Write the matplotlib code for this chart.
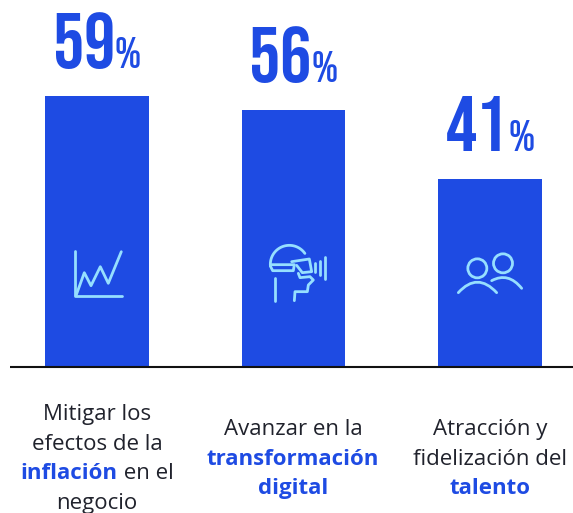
import numpy as np
import matplotlib
matplotlib.use('Agg')
import matplotlib.pyplot as plt
from matplotlib.path import Path
from matplotlib.patches import PathPatch, Circle

valores = [59, 56, 41]
etiquetas = [
    [[('Mitigar los', False)], [('efectos de la', False)], [('inflación', True), (' en el', False)], [('negocio', False)]],
    [[('Avanzar en la', False)], [('transformación', True)], [('digital', True)]],
    [[('Atracción y', False)], [('fidelización del', False)], [('talento', True)]],
]

azul = '#1e4be3'
celeste = '#96dfff'
oscuro = '#20222c'
fonte = ['Open Sans', 'Liberation Sans']
fonte_num = ['Bebas Neue', 'Oswald', 'Liberation Sans']

fig = plt.figure(figsize=(5.73, 5.13), dpi=100)

# eixo dos dados, ocupa a figura toda
ax = fig.add_axes([0, 0, 1, 1])
ax.set_xlim(-0.4925, 2.4215)
ax.set_ylim(-31.8, 79.96)
ax.axis('off')
x = np.arange(len(valores))
ax.bar(x, valores, width=0.528, color=azul)

# eixo em pixels para linha de base, icones e textos
px = fig.add_axes([0, 0, 1, 1])
px.set_xlim(0, 573)
px.set_ylim(513, 0)
px.axis('off')
px.patch.set_alpha(0)
px.plot([10, 573], [367, 367], color='#111111', lw=1.5, solid_capstyle='butt')

renderer = fig.canvas.get_renderer()


def linha(pedacos, cx, cy):
    # junta pedacos normal/negrito centrados em cx
    textos = []
    total = 0
    for s, negrito in pedacos:
        t = px.text(0, cy, s.replace(' ', '\u00a0'), fontsize=16, family=fonte,
                    fontweight='bold' if negrito else 'normal',
                    color=azul if negrito else oscuro, va='center_baseline', ha='left')
        w = t.get_window_extent(renderer).width
        textos.append((t, w))
        total += w
    pos = cx - total / 2
    for t, w in textos:
        t.set_x(pos)
        pos += w


centros = [97, 293, 490]
inicio = [412, 427, 427]
for i, linhas in enumerate(etiquetas):
    for j, pedacos in enumerate(linhas):
        linha(pedacos, centros[i], inicio[i] + j * 29.7)

# numeros grandes sobre as barras, grupo numero+% centrado
for i, v in enumerate(valores):
    t1 = ax.annotate(str(v), (x[i], v), xytext=(0, 20), textcoords='offset points',
                     fontsize=56, family=fonte_num, color=azul,
                     ha='left', va='baseline')
    t2 = ax.annotate('%', (x[i], v), xytext=(0, 20), textcoords='offset points',
                     fontsize=32, family=fonte_num, color=azul,
                     ha='left', va='baseline')
    w1 = t1.get_window_extent(renderer).width * 0.72
    w2 = t2.get_window_extent(renderer).width * 0.72
    inicio_x = -(w1 + w2) / 2
    t1.set_position((inicio_x, 20))
    t2.set_position((inicio_x + w1, 20))


def traco(pontos, lw=2):
    xs, ys = zip(*pontos)
    px.plot(xs, ys, color=celeste, lw=lw, solid_capstyle='round', solid_joinstyle='round')


def curva(p0, p1, p2, lw=2):
    p = Path([p0, p1, p2], [Path.MOVETO, Path.CURVE3, Path.CURVE3])
    px.add_patch(PathPatch(p, fc='none', ec=celeste, lw=lw, capstyle='round'))


# icone grafico
traco([(75, 251), (75, 295.7), (121.7, 295.7)])
traco([(76, 295.7), (84.3, 272.7), (91, 285.7), (100.3, 266.7), (108.3, 283.3), (121.3, 251.7)])

# icone oculos VR
def vr(a, b):
    return (250 + a / 3, 230 + b / 3)


t = np.radians(np.linspace(175, 325, 30))
traco([vr(118 + 57 * np.cos(a), 103 + 57 * np.sin(a)) for a in t])
traco([vr(61, 108), vr(68, 122), vr(130, 122), vr(133, 104), vr(64, 104)])
traco([vr(125, 95), vr(178, 87), vr(185, 125), vr(157, 128), vr(140, 106)])
traco([vr(74, 145), vr(74, 212)])
traco([vr(145, 130), vr(150, 143), vr(180, 140), vr(190, 150), vr(175, 165), vr(172, 185), vr(135, 185), vr(133, 212)])
traco([vr(196, 100), vr(196, 125)])
traco([vr(210, 92), vr(210, 135)])
traco([vr(224, 82), vr(224, 147)])

# icone pessoas
def gente(a, b):
    return (445 + a / 3, 240 + b / 3)


px.add_patch(Circle(gente(97, 85), 9.5, fc='none', ec=celeste, lw=2))
px.add_patch(Circle(gente(174, 70), 9.5, fc='none', ec=celeste, lw=2))
curva(gente(40, 158), gente(97, 95), gente(155, 158))
curva(gente(140, 122), gente(190, 95), gente(230, 145))

fig.savefig('out.png', dpi=100)
